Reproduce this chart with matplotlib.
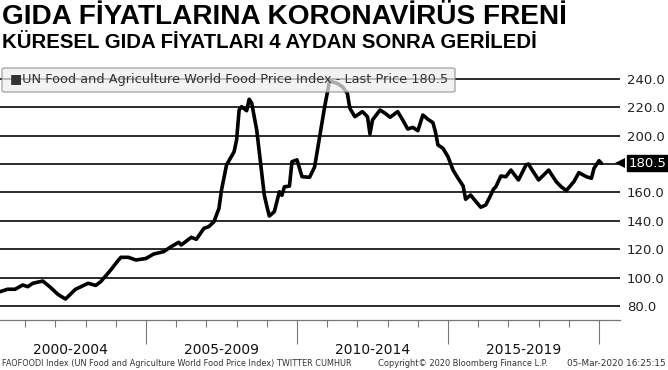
import matplotlib
matplotlib.use('Agg')
import matplotlib.pyplot as plt
import matplotlib.transforms as mtransforms
from matplotlib.patches import FancyBboxPatch
import numpy as np

# ---------------- data ----------------
dates = ['2000-01', '2000-03', '2000-06', '2000-09', '2000-12', '2001-02', '2001-04', '2001-08',
         '2001-11', '2002-02', '2002-05', '2002-09', '2003-02', '2003-05', '2003-07', '2003-11',
         '2004-01', '2004-03', '2004-06', '2004-09', '2005-01', '2005-04', '2005-08', '2005-11',
         '2006-02', '2006-03', '2006-07', '2006-09', '2006-12', '2007-02', '2007-04', '2007-06',
         '2007-07', '2007-09', '2007-12', '2008-01', '2008-02', '2008-03', '2008-05', '2008-06',
         '2008-07', '2008-09', '2008-11', '2008-12', '2009-01', '2009-02', '2009-04', '2009-06',
         '2009-07', '2009-08', '2009-10', '2009-11', '2010-01', '2010-03', '2010-06', '2010-08',
         '2010-10', '2010-12', '2011-02', '2011-03', '2011-05', '2011-07', '2011-09', '2011-10',
         '2011-12', '2012-03', '2012-05', '2012-06', '2012-07', '2012-10', '2012-12', '2013-02',
         '2013-05', '2013-07', '2013-09', '2013-11', '2014-01', '2014-03', '2014-05', '2014-07',
         '2014-08', '2014-09', '2014-11', '2015-01', '2015-03', '2015-05', '2015-07', '2015-08',
         '2015-10', '2015-11', '2016-02', '2016-04', '2016-06', '2016-07', '2016-08', '2016-10',
         '2016-12', '2017-02', '2017-05', '2017-08', '2017-09', '2017-10', '2018-01', '2018-05',
         '2018-08', '2018-10', '2018-12', '2019-03', '2019-05', '2019-08', '2019-10', '2019-11',
         '2020-01', '2020-02']
values = [89.5, 90.1, 91.8, 91.8, 94.8, 93.6, 96.0, 97.6,
          93.2, 88.2, 84.9, 91.8, 96.0, 94.5, 97.1, 105.4,
          110.0, 114.3, 114.3, 112.4, 113.5, 116.6, 118.3, 121.8,
          124.9, 123.0, 128.4, 127.0, 134.7, 136.0, 139.4, 148.8,
          161.7, 179.4, 188.7, 197.0, 218.1, 220.5, 217.6, 225.7,
          223.0, 204.0, 173.5, 158.2, 150.5, 143.4, 146.5, 160.5,
          158.0, 164.0, 164.5, 181.7, 183.0, 171.1, 170.7, 178.0,
          199.3, 220.5, 239.2, 238.0, 236.9, 234.6, 229.9, 219.3,
          213.4, 217.0, 213.4, 201.2, 211.1, 218.1, 215.8, 213.0,
          217.0, 211.1, 204.7, 205.9, 203.5, 214.6, 211.6, 209.2,
          202.8, 193.5, 191.1, 185.2, 175.8, 170.0, 164.6, 155.2,
          158.2, 155.9, 149.6, 151.2, 158.2, 162.2, 164.0, 171.6,
          171.1, 175.8, 168.8, 179.4, 180.1, 177.0, 168.8, 175.8,
          167.6, 164.0, 161.3, 167.6, 174.0, 171.1, 170.0, 177.0,
          182.4, 180.5]
y_ticks = [80, 100, 120, 140, 160, 180, 200, 220, 240]
year_ticks = list(range(2001, 2021))
period_bounds = [2005, 2010, 2015, 2020]
period_labels = ['2000-2004', '2005-2009', '2010-2014', '2015-2019']
period_centers = [2002.5, 2007.5, 2012.5, 2017.5]
last_price = 180.5

title = 'GIDA FİYATLARINA KORONAVİRÜS FRENİ'
subtitle = 'KÜRESEL GIDA FİYATLARI 4 AYDAN SONRA GERİLEDİ'
legend_text = '■UN Food and Agriculture World Food Price Index - Last Price 180.5'
footer_left = 'FAOFOODI Index (UN Food and Agriculture World Food Price Index) TWITTER CUMHUR'
footer_mid = 'Copyright© 2020 Bloomberg Finance L.P.'
footer_right = '05-Mar-2020 16:25:15'

# ---------------- figure ----------------
W, H = 668, 370
fig = plt.figure(figsize=(W / 100, H / 100), dpi=100)
fig.patch.set_facecolor('white')

t = np.array([int(d[:4]) + (int(d[5:]) - 1) / 12 for d in dates])

ax = fig.add_axes([0, (H - 320) / H, 620 / W, (320 - 62) / H])
ax.plot(t, values, color='black', lw=2.6, solid_joinstyle='round', solid_capstyle='round', zorder=3)
ax.set_xlim(2000.166, 2020.695)
ax.set_ylim(70.13, 251.95)
for s in ['left', 'top', 'right']:
    ax.spines[s].set_visible(False)
ax.spines['bottom'].set_color('#777777')
ax.spines['bottom'].set_linewidth(0.9)

ax.set_yticks(y_ticks)
ax.yaxis.tick_right()
# the 180.0 label is covered by the last-price tag in the reference
ax.set_yticklabels(['' if abs(v - last_price) < 5 else f'{v:.1f}' for v in y_ticks])
ax.tick_params(axis='y', length=0, pad=5, labelsize=9.5, labelcolor='#222222')
ax.grid(axis='y', color='#1a1a1a', lw=1.3)
ax.set_axisbelow(True)

ax.set_xticks(period_bounds)
ax.set_xticks(year_ticks, minor=True)
ax.set_xticklabels([])
ax.tick_params(axis='x', which='major', length=17, width=0.8, color='#777777')
ax.tick_params(axis='x', which='minor', length=5, width=0.8, color='#777777')

# period labels
trans = mtransforms.blended_transform_factory(ax.transData, fig.transFigure)
for c, lab in zip(period_centers, period_labels):
    ax.text(c, (H - 350) / H, lab, transform=trans, ha='center', va='center',
            fontsize=10, color='#111111', clip_on=False)

# last price tag
tag = ax.annotate(f'{last_price:.1f}', xy=(1.0, last_price),
                  xycoords=('axes fraction', 'data'),
                  xytext=(6.5, 0), textcoords='offset points', ha='left', va='center',
                  fontsize=9.5, color='white',
                  bbox=dict(boxstyle='square,pad=0.12', fc='black', ec='black'),
                  annotation_clip=False, zorder=5)
ax.plot([1.0], [last_price], marker='<', ms=7, color='black', mew=0,
        transform=mtransforms.blended_transform_factory(ax.transAxes, ax.transData),
        clip_on=False, zorder=5)

# legend box
box = FancyBboxPatch((2 / W, (H - 92) / H), 453 / W, 24 / H,
                     boxstyle='round,pad=0,rounding_size=0.004',
                     transform=fig.transFigure, fc='#efefef', ec='#8a8a8a',
                     lw=1.0, alpha=0.72, zorder=4)
fig.add_artist(box)

renderer = fig.canvas.get_renderer()


def fit(txt, width_px):
    fs = txt.get_fontsize()
    for _ in range(3):
        w = txt.get_window_extent(renderer=renderer).width
        fs = fs * width_px / w
        txt.set_fontsize(fs)
    return txt


leg = fig.text(10 / W, (H - 80) / H, legend_text, ha='left', va='center',
               fontsize=10, color='#333333', zorder=5)
fit(leg, 437)

tt = fig.text(2 / W, (H - 17) / H, title, ha='left', va='center',
              fontsize=20, fontweight='bold', family='Liberation Sans', color='black')
fit(tt, 565)
st = fig.text(2 / W, (H - 42) / H, subtitle, ha='left', va='center',
              fontsize=13, fontweight='bold', family='Liberation Sans', color='black')
fit(st, 533)

f1 = fig.text(2 / W, (H - 363) / H, footer_left, ha='left', va='center', fontsize=7, color='#333333')
fit(f1, 350)
f2 = fig.text(378 / W, (H - 363) / H, footer_mid, ha='left', va='center', fontsize=7, color='#333333')
fit(f2, 170)
f3 = fig.text(666 / W, (H - 363) / H, footer_right, ha='right', va='center', fontsize=7, color='#333333')
fit(f3, 98)

fig.savefig('out.png', dpi=100, facecolor='white')
